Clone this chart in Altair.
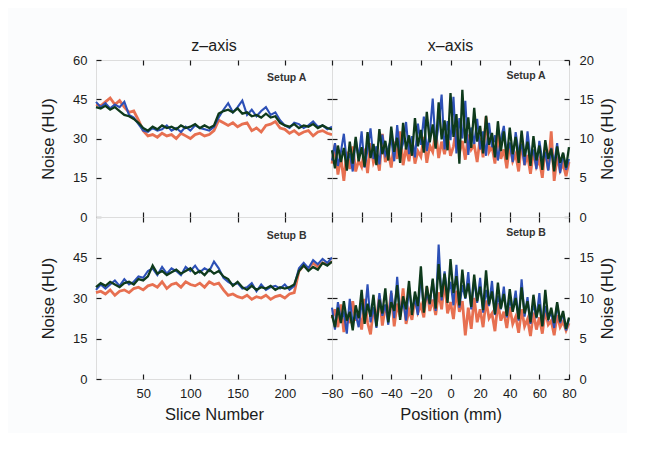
import altair as alt
import pandas as pd

# ---------------- data ----------------
SLICES = list(range(0, 251, 5))  # slice number
POS = list(range(-80, 81, 2))    # position (mm)

# z-axis, Setup A
zA_red = [43, 42.5, 44, 45.5, 43, 44.5, 42, 40, 40.5, 37,
          33, 31, 31.5, 30.5, 32, 31, 31.5, 30, 32, 31,
          30, 31.5, 32, 31, 31.5, 33, 37, 36, 35, 36,
          34.5, 35.5, 36, 33, 34, 32.5, 35, 35.5, 36.5, 34,
          33.5, 32, 33, 31.5, 32.5, 33, 31, 32.5, 33, 32, 31.5]
zA_blue = [44, 42, 43.5, 41.5, 43, 42, 44, 39, 38, 35.5,
           33, 32.5, 34, 33, 33.5, 35, 33, 34, 32.5, 34.5,
           33, 35, 34, 33.5, 33, 34.5, 38, 41, 43.5, 40,
           42, 44.5, 39, 41, 38.5, 40.5, 42, 39, 40, 37,
           35, 34, 36, 35.5, 34, 35, 36.5, 34.5, 35, 33.5, 34.5]
zA_green = [42, 41.5, 42.5, 41, 42, 40.5, 39, 38.5, 37.5, 36,
            34, 33, 34.5, 33.5, 35, 34, 34.5, 33.5, 35, 34,
            34.5, 35.5, 34, 35, 34, 35, 39.5, 40.5, 41, 40,
            41.5, 39.5, 40, 38.5, 39, 38, 39.5, 38, 38.5, 36,
            35, 34.5, 35.5, 34, 35, 34.5, 35.5, 34, 35, 34, 33.5]

# z-axis, Setup B
zB_red = [32, 32.5, 31.5, 33, 31, 32.5, 33, 32, 33.5, 34,
          33, 34.5, 35, 34, 36, 33.5, 35, 35.5, 34, 36,
          35, 34.5, 35.5, 34, 36, 35, 35.5, 33, 31, 31.5,
          30.5, 30, 31, 29.5, 30.5, 30, 31, 29.5, 30.5, 31,
          30, 31.5, 32, 40, 42, 41, 43, 41.5, 43, 42.5, 43.5]
zB_blue = [33, 35, 33.5, 35, 36.5, 34.5, 37, 35, 36, 38,
           37.5, 40, 41, 38.5, 41.5, 39, 41, 40, 38.5, 41.5,
           40, 42, 39.5, 41, 40, 43.5, 41, 37.5, 36, 35,
           35.5, 33.5, 34, 35.5, 32.5, 35, 33, 34, 34.5, 33.5,
           35, 33, 34.5, 41, 43, 41, 44, 42.5, 44.5, 43, 45]
zB_green = [34, 35.5, 34.5, 36, 35, 34, 35.5, 36, 35, 37,
            36.5, 38, 42, 39, 40, 38.5, 39.5, 40.5, 39, 40,
            41, 39, 40, 38.5, 40.5, 39, 40, 38, 37, 34.5,
            36, 34, 33, 34.5, 33, 34, 33.5, 34.5, 33, 34,
            33.5, 34, 35, 40, 42, 40, 41.5, 40.5, 43, 42, 43.5]

# x-axis, Setup A
xA_red = [6.8, 9.2, 5.4, 7.6, 4.6, 8.3, 6.1, 9.0, 5.8, 7.2,
          6.4, 8.7, 5.6, 9.4, 6.9, 7.8, 5.9, 10.6, 7.0, 8.2,
          6.3, 9.6, 7.4, 10.9, 6.6, 8.8, 7.1, 9.9, 6.8, 8.4,
          7.7, 10.2, 6.9, 9.1, 8.3, 11.0, 7.5, 9.6, 8.0, 10.4,
          7.8, 9.0, 11.2, 8.1, 9.7, 7.3, 10.5, 8.6, 9.2, 7.0,
          10.1, 7.6, 12.8, 8.3, 9.0, 6.8, 10.7, 7.4, 8.6, 6.2,
          9.3, 7.1, 8.0, 5.8, 9.5, 6.6, 7.9, 5.5, 8.4, 6.4,
          7.3, 5.0, 8.9, 6.0, 10.9, 4.6, 7.7, 5.9, 6.8, 5.2,
          7.0]
xA_blue = [7.2, 9.4, 6.5, 8.3, 10.6, 7.0, 8.1, 5.8, 9.9, 7.5,
           10.9, 6.3, 8.6, 11.3, 7.4, 9.0, 6.7, 10.5, 7.9, 8.8,
           10.0, 7.1, 11.7, 8.2, 9.4, 12.1, 8.0, 10.3, 7.6, 11.9,
           9.2, 12.8, 8.4, 10.6, 15.1, 9.0, 11.8, 15.6, 8.6, 12.2,
           9.8, 15.3, 8.1, 12.6, 10.0, 14.8, 7.9, 11.4, 9.3, 12.5,
           8.6, 10.9, 7.8, 12.0, 8.9, 10.4, 7.2, 9.9, 11.6, 8.0,
           9.5, 7.0, 10.8, 8.2, 9.3, 6.6, 10.9, 7.5, 8.6, 6.1,
           9.7, 7.1, 8.3, 5.9, 8.8, 6.8, 9.4, 5.6, 8.1, 6.0,
           7.4]
xA_green = [8.5, 6.2, 9.1, 7.0, 8.8, 5.9, 9.6, 6.8, 10.2, 7.1,
            8.9, 6.4, 10.8, 7.5, 9.3, 6.6, 11.2, 8.0, 9.7, 7.2,
            11.5, 8.3, 10.1, 6.9, 12.0, 8.6, 10.4, 7.8, 12.6, 9.0,
            11.1, 8.2, 13.4, 9.5, 11.8, 8.7, 14.6, 9.9, 12.3, 8.5,
            15.8, 10.2, 13.1, 6.8, 16.2, 9.4, 12.7, 8.8, 13.9, 9.6,
            11.6, 8.1, 12.9, 9.2, 10.7, 7.6, 12.2, 8.4, 10.9, 7.3,
            11.4, 8.0, 10.2, 6.9, 11.0, 7.7, 9.6, 6.5, 10.3, 7.2,
            9.1, 6.0, 9.8, 7.4, 8.7, 5.8, 9.0, 6.9, 8.2, 6.3,
            8.9]

# x-axis, Setup B
xB_red = [7.5, 8.6, 6.4, 9.2, 5.8, 8.0, 6.9, 9.6, 7.2, 8.3,
          6.1, 9.9, 7.0, 5.5, 8.7, 7.4, 10.3, 6.6, 8.9, 7.8,
          10.6, 6.5, 9.3, 7.7, 11.2, 6.8, 8.5, 7.3, 10.0, 8.2,
          9.1, 7.6, 11.4, 8.4, 9.8, 7.9, 10.7, 8.6, 12.2, 8.1,
          9.5, 7.4, 10.9, 8.3, 9.6, 5.4, 8.8, 6.2, 10.0, 7.0,
          8.6, 6.4, 9.7, 7.5, 8.1, 5.9, 9.4, 7.2, 8.3, 6.3,
          8.9, 6.8, 7.7, 5.7, 8.6, 6.5, 7.4, 5.3, 8.2, 6.1,
          7.6, 5.6, 8.5, 6.7, 7.2, 5.4, 7.9, 6.4, 7.1, 6.0,
          6.9]
xB_blue = [8.8, 6.1, 9.5, 7.3, 8.2, 5.6, 9.9, 6.8, 8.0, 6.4,
           9.4, 7.6, 11.7, 7.0, 8.9, 6.3, 10.6, 7.8, 9.2, 6.7,
           10.9, 7.5, 12.6, 8.1, 9.7, 7.2, 11.3, 8.5, 10.0, 7.9,
           12.9, 8.6, 10.7, 9.2, 12.2, 8.4, 16.6, 9.7, 13.3, 10.3,
           12.0, 9.1, 14.1, 8.8, 11.6, 9.9, 13.2, 8.6, 12.3, 9.4,
           12.5, 8.2, 11.0, 9.0, 12.1, 7.9, 10.3, 8.6, 11.4, 7.6,
           9.8, 8.4, 10.9, 7.2, 12.3, 7.7, 10.1, 6.8, 9.4, 7.5,
           10.6, 6.6, 9.0, 7.4, 8.3, 6.3, 9.2, 6.9, 8.1, 6.0,
           7.4]
xB_green = [7.9, 6.4, 8.8, 6.9, 9.6, 7.2, 8.3, 6.0, 9.1, 7.5,
            11.0, 6.8, 9.3, 7.7, 10.4, 6.5, 9.8, 8.1, 11.2, 7.0,
            9.5, 8.4, 11.6, 7.3, 10.2, 8.6, 12.1, 7.9, 10.8, 9.0,
            13.9, 8.2, 11.5, 9.3, 12.4, 8.7, 14.2, 10.1, 13.0, 9.4,
            14.8, 10.6, 12.7, 9.1, 13.5, 10.0, 11.8, 8.9, 12.9, 9.6,
            11.4, 8.5, 13.4, 9.2, 10.8, 8.0, 11.9, 8.7, 10.5, 7.8,
            11.1, 8.3, 10.0, 7.4, 11.3, 8.1, 9.6, 7.0, 10.4, 7.6,
            9.2, 6.5, 11.0, 7.3, 8.8, 6.9, 9.5, 7.1, 8.4, 6.2,
            7.6]

SETUP_LABELS = ["Setup A", "Setup B"]
Z_TICKS = [50, 100, 150, 200]
X_TICKS = [-80, -60, -40, -20, 0, 20, 40, 60, 80]
ZY_TICKS = [0, 15, 30, 45, 60]
XY_TICKS = [0, 5, 10, 15, 20]

# ---------------- styling ----------------
FONT = "Liberation Sans"
INK = "#1c1c1c"
COLORS = {"red": "#e4603e", "blue": "#2c50b6", "green": "#0e3a1c"}
WIDTHS = {"red": 2.8, "blue": 2.1, "green": 2.3}
W_L, W_R = 236, 237
H_T, H_B = 157, 162


def axis(orient, labels, title=None, values=None, lp=9, tp=16):
    kw = dict(orient=orient, offset=-5, tickSize=5, domain=False, grid=False,
              labels=labels, tickColor=INK, tickWidth=1.2,
              labelFont=FONT, labelFontSize=13, labelColor=INK,
              labelPadding=lp, labelOverlap=False, labelFlush=False,
              titleFont=FONT, titleFontSize=16.5,
              titleFontWeight="normal", titleColor=INK, titlePadding=tp)
    if values is not None:
        kw["values"] = values
    kw["title"] = title if title is not None else None
    if orient == "right":
        kw["titleAngle"] = 270
        kw["titleBaseline"] = "top"
    return alt.Axis(**kw)


def panel(xs, series, xdom, ydom, ax_bottom, ax_left, ax_top, ax_right,
          label, label_xy, width, height, title=None):
    xsc = alt.Scale(domain=xdom, nice=False, zero=False)
    ysc = alt.Scale(domain=ydom, nice=False, zero=False)
    layers = []
    for i, (name, vals) in enumerate(series):
        df = pd.DataFrame({"x": xs, "y": vals})
        ch = alt.Chart(df).mark_line(
            color=COLORS[name], strokeWidth=WIDTHS[name],
            opacity=0.9 if name == "red" else 1.0
        ).encode(
            x=alt.X("x:Q", scale=xsc, axis=ax_bottom if i == 0 else None),
            y=alt.Y("y:Q", scale=ysc, axis=ax_left if i == 0 else None),
        )
        layers.append(ch)
    tdf = pd.DataFrame({"x": [label_xy[0]], "y": [label_xy[1]], "t": [label]})
    txt = alt.Chart(tdf).mark_text(
        font=FONT, fontSize=10.5, fontWeight="bold", color="#333333"
    ).encode(
        x=alt.X("x:Q", scale=xsc, axis=ax_top),
        y=alt.Y("y:Q", scale=ysc, axis=ax_right),
        text="t:N",
    )
    layers.append(txt)
    ch = alt.layer(*layers).resolve_axis(x="independent", y="independent")
    props = dict(width=width, height=height)
    if title is not None:
        props["title"] = alt.TitleParams(title, font=FONT, fontSize=16,
                                         fontWeight="normal", color=INK,
                                         anchor="middle", frame="group",
                                         offset=0)
    return ch.properties(**props)


tl = panel(
    SLICES, [("red", zA_red), ("blue", zA_blue), ("green", zA_green)],
    [0, 250], [0, 60],
    axis("bottom", False, values=Z_TICKS),
    axis("left", True, "Noise (HU)", ZY_TICKS),
    axis("top", False, values=Z_TICKS),
    axis("right", False, values=[15, 30, 45]),
    SETUP_LABELS[0], (202, 53), W_L, H_T, title="z\u2013axis")

tr = panel(
    POS, [("red", xA_red), ("blue", xA_blue), ("green", xA_green)],
    [-80, 80], [0, 20],
    axis("bottom", False, values=X_TICKS),
    axis("left", False, values=[5, 10, 15]),
    axis("top", False, values=X_TICKS),
    axis("right", True, "Noise (HU)", XY_TICKS, lp=10, tp=6),
    SETUP_LABELS[0], (51, 18), W_R, H_T, title="x\u2013axis")

bl = panel(
    SLICES, [("red", zB_red), ("blue", zB_blue), ("green", zB_green)],
    [0, 250], [0, 60],
    axis("bottom", True, "Slice Number", Z_TICKS, lp=8, tp=6),
    axis("left", True, "Noise (HU)", ZY_TICKS[:-1]),
    axis("top", False, values=Z_TICKS),
    axis("right", False, values=[15, 30, 45]),
    SETUP_LABELS[1], (202, 53), W_L, H_B)

br = panel(
    POS, [("red", xB_red), ("blue", xB_blue), ("green", xB_green)],
    [-80, 80], [0, 20],
    axis("bottom", True, "Position (mm)", X_TICKS, lp=8, tp=6),
    axis("left", False, values=[5, 10, 15]),
    axis("top", False, values=X_TICKS),
    axis("right", True, "Noise (HU)", XY_TICKS[:-1], lp=10, tp=6),
    SETUP_LABELS[1], (51, 18), W_R, H_B)

chart = alt.concat(tl, tr, bl, br, columns=2, spacing=0, bounds="flush").properties(
    padding={"left": 32, "top": 29, "right": 10, "bottom": 10},
    background="#fbfcfd",
).configure_view(
    stroke=INK, strokeWidth=1.3
).configure(font=FONT)

chart.save("out.html", embed_options={"renderer": "svg", "actions": False})
